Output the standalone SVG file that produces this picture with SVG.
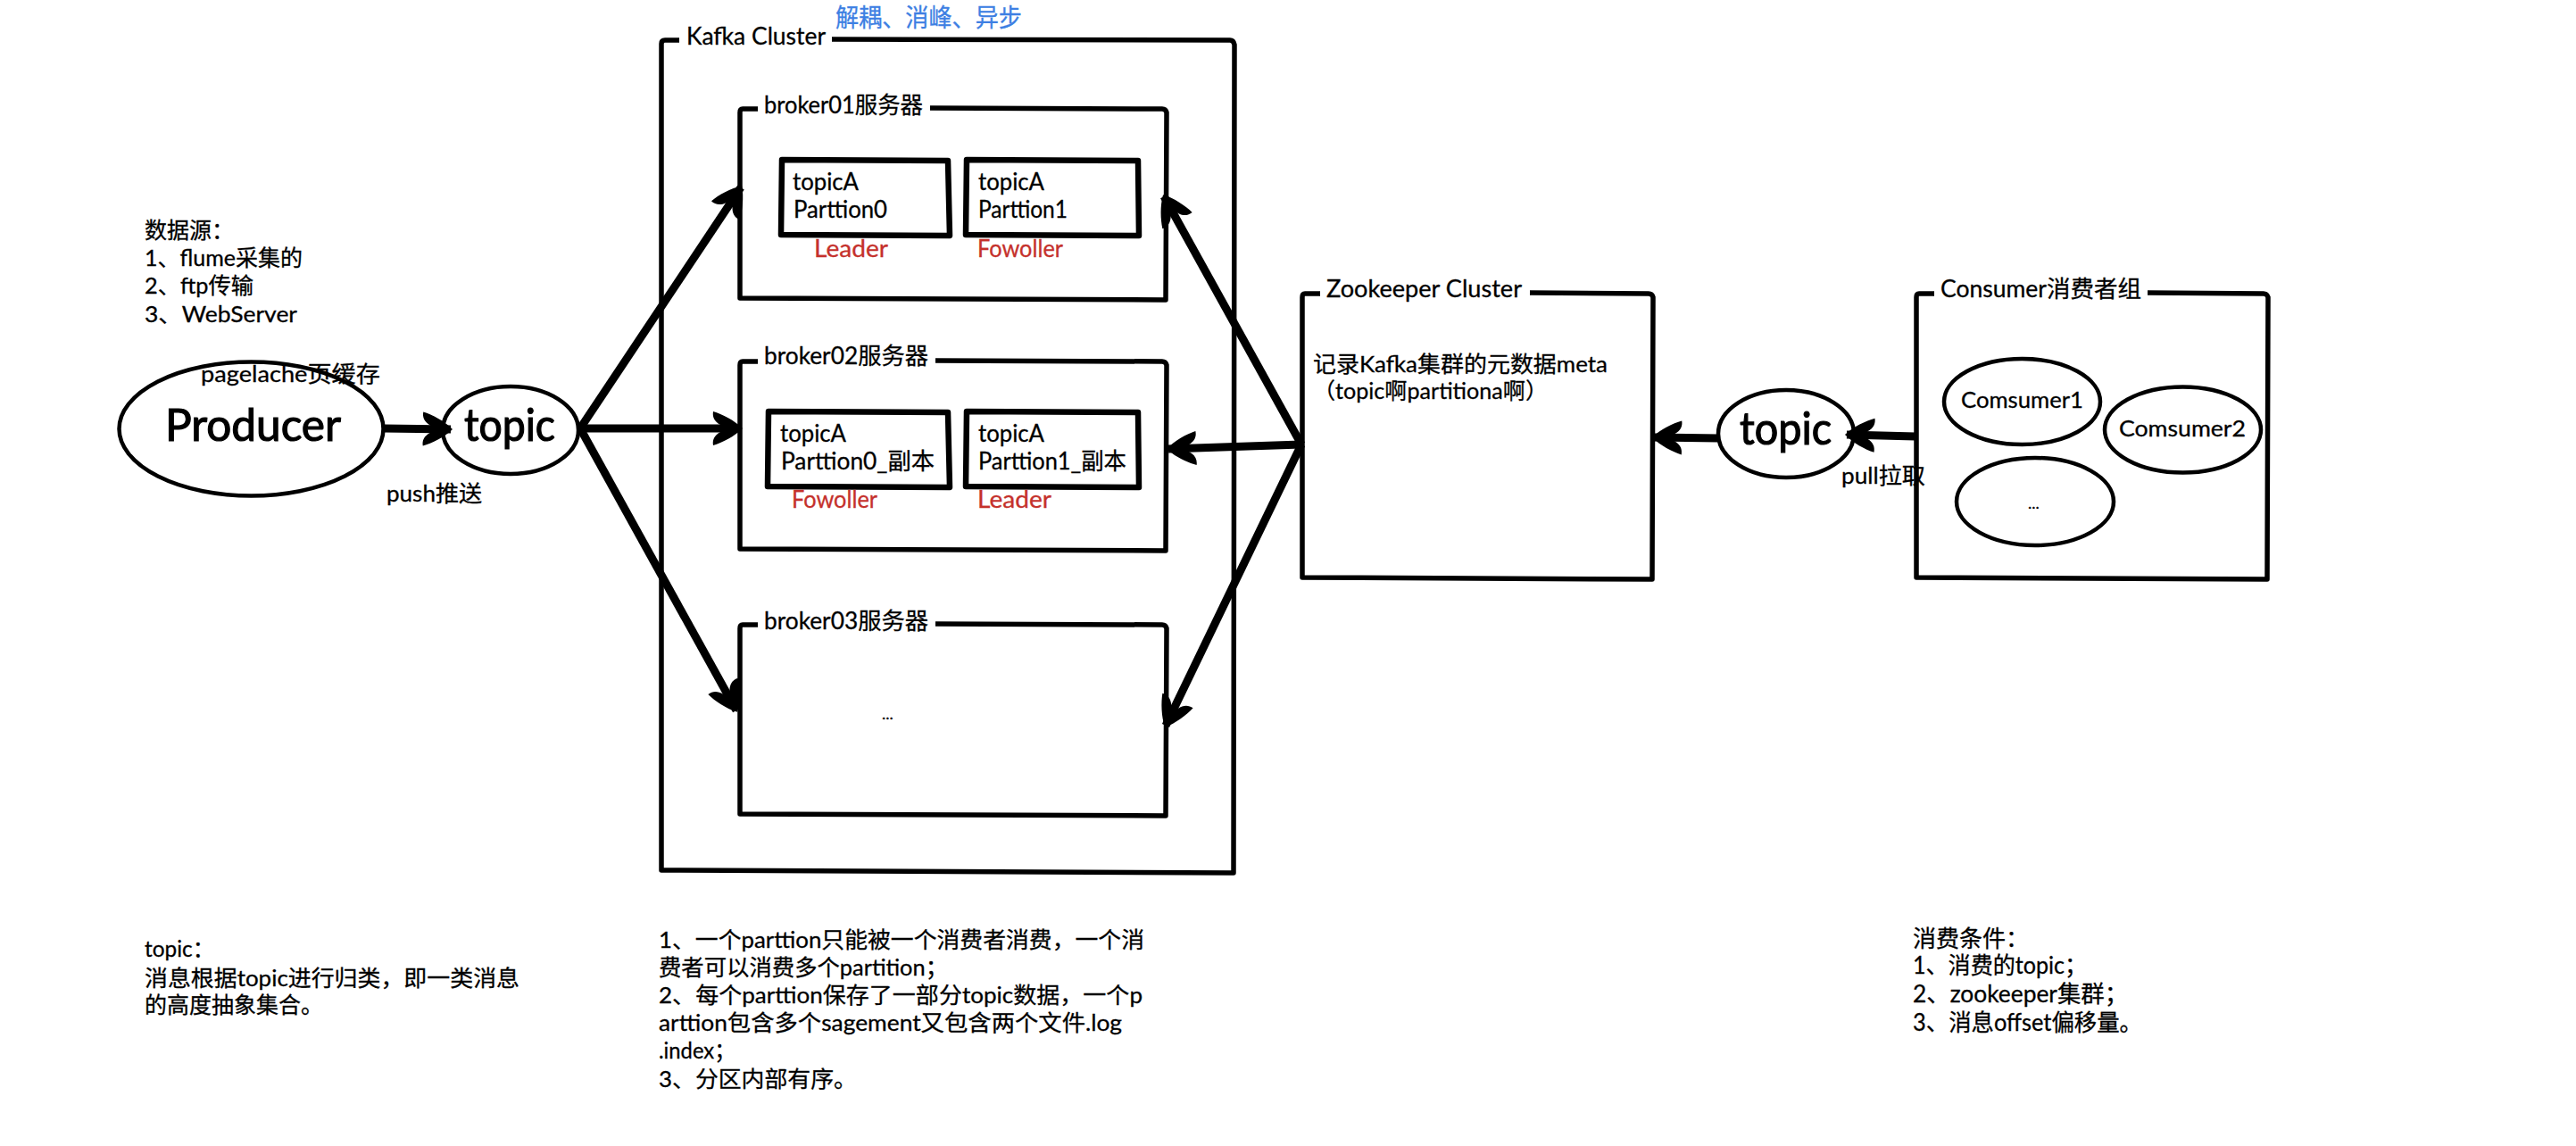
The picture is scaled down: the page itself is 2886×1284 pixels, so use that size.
<svg xmlns="http://www.w3.org/2000/svg" width="2886" height="1284" viewBox="0 0 2886 1284">
<style>
text{font-family:"Lato","Noto Sans CJK SC","Noto Sans",sans-serif;fill:#000;stroke:#000;stroke-width:.3px;font-size:25px;white-space:pre}
.big{font-size:50px;stroke-width:1.2px}.mid{font-size:26px}.note26{font-size:26px}
.red{fill:#c5312c;stroke:#c5312c;font-size:26px}.blue{fill:#3d7fe3;stroke:#3d7fe3;font-size:28px}
.dots{font-size:18px}
.box{fill:none;stroke:#000;stroke-width:5.5;stroke-linejoin:round}
.pbox{fill:none;stroke:#000;stroke-width:6.5;stroke-linejoin:round}
.oval{fill:none;stroke:#000;stroke-width:4.5}
.arr{fill:none;stroke:#000;stroke-width:9;marker-end:url(#head)}
</style>
<defs>
<marker id="head" viewBox="0 -21 37 42" refX="34" refY="0" markerUnits="userSpaceOnUse" markerWidth="37" markerHeight="42" orient="auto">
<path d="M36,0 C27,-9 13,-16 3,-19 C2,-13 4,-8 11,-4 L11,4 C4,8 2,13 3,19 C13,16 27,9 36,0Z" fill="#000"/>
</marker>
</defs>
<rect width="2886" height="1284" fill="#fff"/>

<g id="kafka-cluster">
<path class="box" d="M761 45 L745 45 Q741 45 741 49 L741 975 L1382 978 L1383 50 Q1382 45 1378 45 L932 44"/>
<text x="769" y="50" class="mid" textLength="156" lengthAdjust="spacingAndGlyphs">Kafka Cluster</text>
<text x="936" y="30" class="blue" textLength="209" lengthAdjust="spacingAndGlyphs">解耦、消峰、异步</text>
</g>

<g id="broker01">
<path class="box" d="M849 122 L832 122 Q829 122 829 126 L829 334 L1306 336 L1307 126 Q1306 122 1302 122 L1042 121"/>
<text x="856" y="127" class="mid" textLength="178" lengthAdjust="spacingAndGlyphs">broker01服务器</text>
</g>
<g id="partition-a0">
<path class="pbox" d="M876 179 L1062 180 L1064 264 L875 263 Z"/>
<text x="888" y="213" class="mid" textLength="74" lengthAdjust="spacingAndGlyphs">topicA</text>
<text x="889" y="244" class="mid" textLength="105" lengthAdjust="spacingAndGlyphs">Parttion0</text>
<text x="912" y="288" class="red" textLength="83" lengthAdjust="spacingAndGlyphs">Leader</text>
</g>
<g id="partition-a1">
<path class="pbox" d="M1083 179 L1275 180 L1276 264 L1082 263 Z"/>
<text x="1096" y="213" class="mid" textLength="74" lengthAdjust="spacingAndGlyphs">topicA</text>
<text x="1096" y="244" class="mid" textLength="100" lengthAdjust="spacingAndGlyphs">Parttion1</text>
<text x="1095" y="288" class="red" textLength="96" lengthAdjust="spacingAndGlyphs">Fowoller</text>
</g>

<g id="broker02">
<path class="box" d="M849 405 L832 405 Q829 405 829 409 L829 615 L1306 617 L1307 409 Q1306 405 1302 405 L1048 404"/>
<text x="856" y="408" class="mid" textLength="184" lengthAdjust="spacingAndGlyphs">broker02服务器</text>
</g>
<g id="partition-a0-replica">
<path class="pbox" d="M861 461 L1062 462 L1064 546 L860 545 Z"/>
<text x="874" y="495" class="mid" textLength="74" lengthAdjust="spacingAndGlyphs">topicA</text>
<text x="875" y="526" class="mid" textLength="172" lengthAdjust="spacingAndGlyphs">Parttion0_副本</text>
<text x="887" y="569" class="red" textLength="96" lengthAdjust="spacingAndGlyphs">Fowoller</text>
</g>
<g id="partition-a1-replica">
<path class="pbox" d="M1083 461 L1275 462 L1276 546 L1082 545 Z"/>
<text x="1096" y="495" class="mid" textLength="74" lengthAdjust="spacingAndGlyphs">topicA</text>
<text x="1096" y="526" class="mid" textLength="166" lengthAdjust="spacingAndGlyphs">Parttion1_副本</text>
<text x="1095" y="569" class="red" textLength="83" lengthAdjust="spacingAndGlyphs">Leader</text>
</g>

<g id="broker03">
<path class="box" d="M849 700 L832 700 Q829 700 829 704 L829 912 L1306 914 L1307 704 Q1306 700 1302 700 L1048 699"/>
<text x="856" y="705" class="mid" textLength="184" lengthAdjust="spacingAndGlyphs">broker03服务器</text>
<text x="988" y="806" class="dots">...</text>
</g>

<g id="producer">
<ellipse class="oval" cx="281.500" cy="480.500" rx="148" ry="75"/>
<text x="185" y="494" class="big" textLength="197" lengthAdjust="spacingAndGlyphs">Producer</text>
<text x="225" y="428" textLength="201" lengthAdjust="spacingAndGlyphs">pagelache页缓存</text>
</g>
<g id="topic-in">
<ellipse class="oval" cx="572" cy="482" rx="76" ry="49"/>
<text x="520" y="494" class="big" textLength="102" lengthAdjust="spacingAndGlyphs">topic</text>
</g>
<g id="zookeeper-cluster">
<path class="box" d="M1479 329 L1462 329 Q1459 329 1459 333 L1459 647 L1851 649 L1852 333 Q1851 329 1847 329 L1714 328"/>
<text x="1486" y="333" class="mid" textLength="219" lengthAdjust="spacingAndGlyphs">Zookeeper Cluster</text>
<text x="1471" y="417" textLength="330" lengthAdjust="spacingAndGlyphs">记录Kafka集群的元数据meta</text>
<text x="1471" y="447" textLength="263" lengthAdjust="spacingAndGlyphs">（topic啊partitiona啊）</text>
</g>
<g id="topic-out">
<ellipse class="oval" cx="2001" cy="486" rx="76" ry="49"/>
<text x="1949" y="498" class="big" textLength="103" lengthAdjust="spacingAndGlyphs">topic</text>
</g>
<g id="consumer-group">
<path class="box" d="M2167 329 L2150 329 Q2147 329 2147 333 L2147 647 L2540 649 L2541 333 Q2540 329 2536 329 L2406 328"/>
<text x="2174" y="333" class="mid" textLength="225" lengthAdjust="spacingAndGlyphs">Consumer消费者组</text>
</g>
<g id="consumer1">
<ellipse class="oval" cx="2265.500" cy="450" rx="87.500" ry="48"/>
<text x="2197" y="457" textLength="137" lengthAdjust="spacingAndGlyphs">Comsumer1</text>
</g>
<g id="consumer2">
<ellipse class="oval" cx="2445.500" cy="481.500" rx="87.500" ry="48"/>
<text x="2374" y="489" textLength="142" lengthAdjust="spacingAndGlyphs">Comsumer2</text>
</g>
<g id="consumer-more">
<ellipse class="oval" cx="2280" cy="562" rx="88" ry="49"/>
<text x="2272" y="570" class="dots">...</text>
</g>

<g id="connectors">
<path class="arr" d="M430 480 L505 481"/>
<path class="arr" d="M650 480 L830 210"/>
<path class="arr" d="M650 480 L830 480"/>
<path class="arr" d="M650 480 L825 796"/>
<path class="arr" d="M1458 498 L1304 220"/>
<path class="arr" d="M1458 498 L1309 503"/>
<path class="arr" d="M1458 498 L1306 813"/>
<path class="arr" d="M1926 491 L1853 490"/>
<path class="arr" d="M2146 489 L2069 487"/>
</g>

<g id="notes">
<text x="162" y="267" textLength="100" lengthAdjust="spacingAndGlyphs">数据源：</text>
<text x="162" y="298" textLength="177" lengthAdjust="spacingAndGlyphs">1、flume采集的</text>
<text x="162" y="329" textLength="122" lengthAdjust="spacingAndGlyphs">2、ftp传输</text>
<text x="162" y="361" textLength="171" lengthAdjust="spacingAndGlyphs">3、WebServer</text>
<text x="433" y="562" textLength="107" lengthAdjust="spacingAndGlyphs">push推送</text>
<text x="2063" y="542" textLength="94" lengthAdjust="spacingAndGlyphs">pull拉取</text>
<text x="162" y="1072" textLength="78" lengthAdjust="spacingAndGlyphs">topic：</text>
<text x="162" y="1105" textLength="420" lengthAdjust="spacingAndGlyphs">消息根据topic进行归类，即一类消息</text>
<text x="162" y="1135" textLength="200" lengthAdjust="spacingAndGlyphs">的高度抽象集合。</text>
<text x="738" y="1062" textLength="544" lengthAdjust="spacingAndGlyphs">1、一个parttion只能被一个消费者消费，一个消</text>
<text x="738" y="1093" textLength="324" lengthAdjust="spacingAndGlyphs">费者可以消费多个partition；</text>
<text x="738" y="1124" textLength="542" lengthAdjust="spacingAndGlyphs">2、每个parttion保存了一部分topic数据，一个p</text>
<text x="738" y="1155" textLength="519" lengthAdjust="spacingAndGlyphs">arttion包含多个sagement又包含两个文件.log</text>
<text x="738" y="1186" textLength="86" lengthAdjust="spacingAndGlyphs">.index；</text>
<text x="738" y="1218" textLength="222" lengthAdjust="spacingAndGlyphs">3、分区内部有序。</text>
<text x="2143" y="1061" class="note26" textLength="130" lengthAdjust="spacingAndGlyphs">消费条件：</text>
<text x="2143" y="1091" class="note26" textLength="195" lengthAdjust="spacingAndGlyphs">1、消费的topic；</text>
<text x="2143" y="1123" class="note26" textLength="241" lengthAdjust="spacingAndGlyphs">2、zookeeper集群；</text>
<text x="2143" y="1155" class="note26" textLength="257" lengthAdjust="spacingAndGlyphs">3、消息offset偏移量。</text>
</g>
</svg>
